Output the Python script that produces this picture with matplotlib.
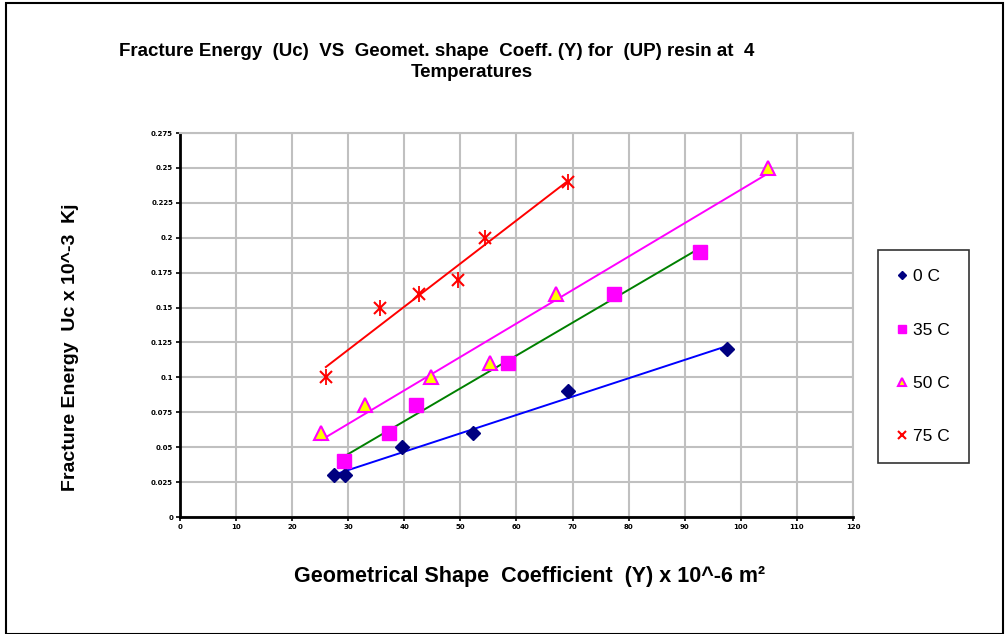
import numpy as np
import matplotlib.pyplot as plt
from matplotlib.patches import Rectangle

# data
x_0c = [27.5, 29.5, 39.5, 52.3, 69.2, 97.5]
y_0c = [0.03, 0.03, 0.05, 0.06, 0.09, 0.12]
x_35c = [29.2, 37.2, 42.0, 58.5, 77.3, 92.8]
y_35c = [0.04, 0.06, 0.08, 0.11, 0.16, 0.19]
x_50c = [25.2, 33.0, 44.8, 55.3, 67.0, 104.8]
y_50c = [0.06, 0.08, 0.10, 0.11, 0.16, 0.25]
x_75c = [26.0, 35.7, 42.7, 49.6, 54.4, 69.2]
y_75c = [0.10, 0.15, 0.16, 0.17, 0.20, 0.24]

labels = ['0 C', '35 C', '50 C', '75 C']
xticks = np.arange(0, 121, 10)
yticks = np.arange(0, 0.2751, 0.025)

FONT = ['Liberation Sans', 'DejaVu Sans']

fig = plt.figure(figsize=(10.08, 6.34), dpi=100)
fig.patches.append(Rectangle((0.006, 0.0), 0.989, 0.995, transform=fig.transFigure,
                             fill=False, edgecolor='black', linewidth=1.5))
ax = fig.add_axes([0.1786, 0.1845, 0.6676, 0.6057])

series = [
    (x_0c, y_0c, dict(marker='D', color='#000080', markersize=7, markeredgecolor='#000080'), '#0000ff'),
    (x_35c, y_35c, dict(marker='s', color='#ff00ff', markersize=10, markeredgecolor='#ff00ff'), '#008000'),
    (x_50c, y_50c, dict(marker='^', color='#ffff00', markersize=10, markeredgecolor='#ff00ff', markeredgewidth=1.5), '#ff00ff'),
    (x_75c, y_75c, dict(marker='x', color='#ff0000', markersize=9, markeredgewidth=1.5), '#ff0000'),
]

handles = []
for (xs, ys, style, lc), lab in zip(series, labels):
    xs = np.array(xs)
    ys = np.array(ys)
    # lineaire trendlijn
    k, b = np.polyfit(xs, ys, 1)
    xl = np.array([xs.min(), xs.max()])
    ax.plot(xl, k * xl + b, color=lc, linewidth=1.4, zorder=2)
    h, = ax.plot(xs, ys, linestyle='none', label=lab, zorder=3, **style)
    handles.append(h)

# verticale streep bij de sterretjes (x + |)
ax.plot(x_75c, y_75c, linestyle='none', marker='|', color='#ff0000', markersize=12,
        markeredgewidth=1.3, zorder=3)

ax.set_xlim(0, 120)
ax.set_ylim(0, 0.275)
ax.set_xticks(xticks)
ax.set_yticks(yticks)
ax.set_xticklabels([str(v) for v in xticks])
ax.set_yticklabels(['0'] + ['%g' % v for v in yticks[1:]])
for t in ax.get_xticklabels() + ax.get_yticklabels():
    t.set_fontsize(5)
    t.set_fontweight('bold')
ax.tick_params(length=3, width=1.2, pad=2)
ax.grid(True, color='#c0c0c0', linewidth=1.5)
ax.set_axisbelow(True)
for s in ['top', 'right']:
    ax.spines[s].set_color('#c0c0c0')
    ax.spines[s].set_linewidth(1.5)
for s in ['left', 'bottom']:
    ax.spines[s].set_linewidth(2)

ax.set_xlabel('Geometrical Shape  Coefficient  (Y) x 10^-6 m\u00b2', fontsize=15.5,
              fontweight='bold', family=FONT, va='center')
ax.xaxis.set_label_coords(0.52, -0.156)
ax.set_ylabel('Fracture Energy  Uc x 10^-3  Kj', fontsize=14, fontweight='bold',
              family=FONT, va='center')
ax.yaxis.set_label_coords(-0.163, 0.443)

fig.text(0.4335, 0.919, 'Fracture Energy  (Uc)  VS  Geomet. shape  Coeff. (Y) for  (UP) resin at  4',
         ha='center', va='center', fontsize=13.5, fontweight='bold', family=FONT)
fig.text(0.468, 0.886, 'Temperatures', ha='center', va='center', fontsize=13.5,
         fontweight='bold', family=FONT)

leg = fig.legend(handles=handles, loc='upper left', bbox_to_anchor=(0.871, 0.6057),
                 borderaxespad=0, frameon=True, fancybox=False, edgecolor='black',
                 labelspacing=2.2, handlelength=0.6, handletextpad=0.3, borderpad=1.1,
                 markerscale=0.6, prop={'family': FONT, 'size': 12.5})
leg.get_frame().set_linewidth(1.2)

fig.savefig('out.png', dpi=100)
